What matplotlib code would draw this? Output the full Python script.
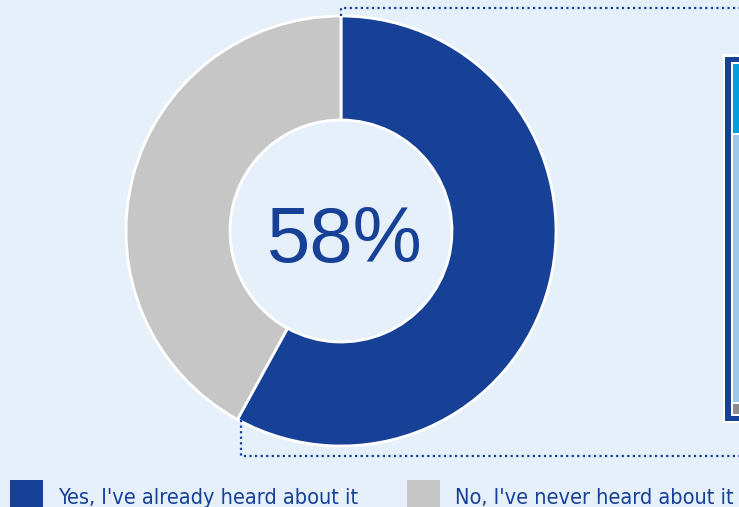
import numpy as np
import matplotlib.pyplot as plt
from matplotlib.patches import Rectangle

plt.rcParams['font.family'] = ['Liberation Sans', 'DejaVu Sans']

labels = ["Yes, I've already heard about it", "No, I've never heard about it"]
shares = [58, 42]
colors = ['#174097', '#c6c6c6']
center_label = "58%"

bg = '#e6f0fa'
H = 507

fig = plt.figure(figsize=(7.39, 5.07), dpi=100, facecolor=bg)
ax = fig.add_axes([0, 0, 1, 1])
ax.set_facecolor(bg)

cx, cy = 341, H - 231
ax.pie(shares, colors=colors, startangle=90, counterclock=False,
       radius=215, center=(cx, cy),
       wedgeprops=dict(width=104, edgecolor='white', linewidth=2))
ax.text(345, H - 262, center_label, ha='center', va='baseline',
        fontsize=56, color=colors[0], family='Liberation Sans')

# dotted callout lines
ax.plot([341, 341, 739], [H - 16, H - 8, H - 8], ls=(0, (1, 1.5)), color=colors[0], lw=1.6)
ax.plot([241, 241, 739], [H - 420, H - 456, H - 456], ls=(0, (1, 1.5)), color=colors[0], lw=1.6)

# cropped detail panel on the right
ax.add_patch(Rectangle((723, H - 423), 20, 369, color='white', lw=0))
ax.add_patch(Rectangle((725, H - 421), 20, 364, color=colors[0], lw=0))
ax.add_patch(Rectangle((731, H - 416), 20, 354, color='white', lw=0))
ax.add_patch(Rectangle((733, H - 133), 20, 69, color='#00a0e0', lw=0))
ax.add_patch(Rectangle((733, H - 402), 20, 267, color='#9dc8eb', lw=0))
ax.add_patch(Rectangle((733, H - 414), 20, 10, color='#8c8c8c', lw=0))

# legend
for x0, lab, col in zip([10, 407], labels, colors):
    ax.add_patch(Rectangle((x0, 0), 33, 27, color=col, lw=0))
    ax.text(x0 + 48, H - 504, lab, ha='left', va='baseline',
            fontsize=15.6, color=colors[0], family='DejaVu Sans',
            fontstretch='condensed')

ax.set_xlim(0, 739)
ax.set_ylim(0, H)
ax.set_aspect('auto')
ax.axis('off')

fig.savefig('out.png', dpi=100, facecolor=bg)
